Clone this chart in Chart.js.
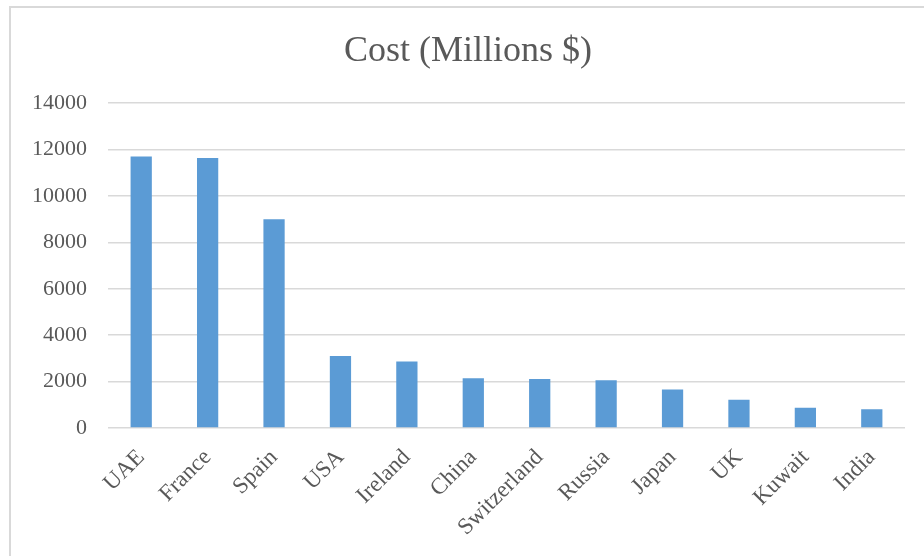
<!DOCTYPE html>
<html lang="en">
<head>
  <meta charset="UTF-8">
  <title>Cost (Millions $)</title>
  <script src="https://cdn.jsdelivr.net/npm/chart.js"></script>
  <style>
    html, body { margin: 0; padding: 0; background: #fff; }
    .frame { position: absolute; left: 9px; top: 6px; width: 940px; height: 570px;
             border-left: 2px solid #d9d9d9; border-top: 2px solid #d9d9d9; }
    .wrap { position: absolute; left: 0; top: 0; width: 924px; height: 556px; }
  </style>
</head>
<body>
  <div class="frame"></div>
  <div class="wrap">
    <canvas id="costChart" width="924" height="556"></canvas>
  </div>

  <script>
    // chart data
    const countries = ['UAE', 'France', 'Spain', 'USA', 'Ireland', 'China',
                       'Switzerland', 'Russia', 'Japan', 'UK', 'Kuwait', 'India'];
    const costs = [11700, 11640, 9000, 3100, 2870, 2140, 2110, 2060, 1660, 1220, 870, 810];
    const yTicks = [0, 2000, 4000, 6000, 8000, 10000, 12000, 14000];

    const textColor = '#595959';
    const gridColor = '#d9d9d9';
    const fontFamily = '"Liberation Serif", "Times New Roman", serif';

    const ctx = document.getElementById('costChart').getContext('2d');

    new Chart(ctx, {
      type: 'bar',
      data: {
        labels: countries,
        datasets: [{
          label: 'Cost (Millions $)',
          data: costs,
          backgroundColor: '#5b9bd5',
          borderWidth: 0,
          barPercentage: 0.32,
          categoryPercentage: 1.0
        }]
      },
      options: {
        responsive: false,
        animation: false,
        layout: { padding: { left: 31, right: 19, top: 0, bottom: 0 } },
        plugins: {
          legend: { display: false },
          tooltip: { enabled: false },
          title: {
            display: true,
            text: 'Cost (Millions $)',
            color: textColor,
            font: { family: fontFamily, size: 36, weight: 'normal' },
            padding: { top: 30, bottom: 30 }
          }
        },
        scales: {
          x: {
            grid: { display: false },
            border: { display: false },
            ticks: {
              color: textColor,
              font: { family: fontFamily, size: 23 },
              minRotation: 45,
              maxRotation: 45,
              padding: 8,
              autoSkip: false
            },
            afterFit: s => { s.height = 128; }
          },
          y: {
            min: 0,
            max: 14000,
            afterBuildTicks: s => { s.ticks = yTicks.map(v => ({ value: v })); },
            grid: { color: gridColor, lineWidth: 1.5, drawTicks: false },
            border: { display: false },
            ticks: {
              color: textColor,
              font: { family: fontFamily, size: 22 },
              padding: 21,
              callback: v => String(v)
            },
            afterFit: s => { s.width = 77; }
          }
        }
      }
    });
  </script>
</body>
</html>
